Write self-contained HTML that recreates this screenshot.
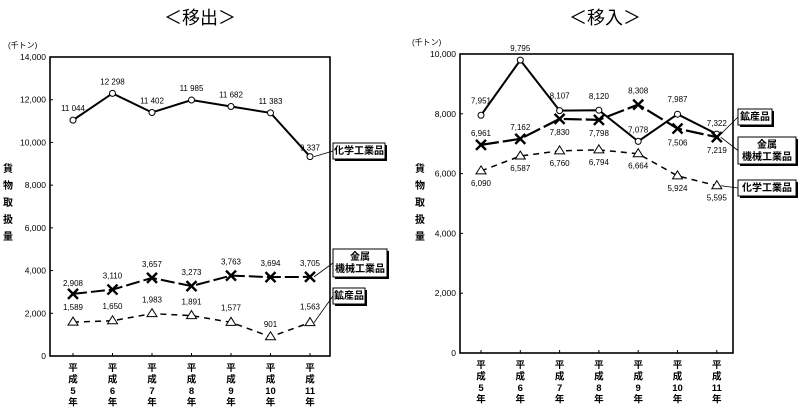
<!DOCTYPE html>
<html><head><meta charset="utf-8"><style>
body{margin:0;background:#fff;width:800px;height:409px;overflow:hidden}
svg{font-family:"Liberation Sans","Noto Sans CJK JP",sans-serif}
</style></head><body>
<svg id="c" width="800" height="409" viewBox="0 0 800 409">
<text x="200" y="24" font-size="18" text-anchor="middle">＜移出＞</text>
<text x="605" y="24" font-size="18" text-anchor="middle">＜移入＞</text>
</svg>
<script>
const years=["平成5年","平成6年","平成7年","平成8年","平成9年","平成10年","平成11年"];
const yearNums=["5","6","7","8","9","10","11"];
// 移出
const outChem=[11044,12298,11402,11985,11682,11383,9337];
const outMetal=[2908,3110,3657,3273,3763,3694,3705];
const outMineral=[1589,1650,1983,1891,1577,901,1563];
const outTicks=[0,2000,4000,6000,8000,10000,12000,14000];
// 移入
const inMineral=[7951,9795,8107,8120,7078,7987,7322];
const inMetal=[6961,7162,7830,7798,8308,7506,7219];
const inChem=[6090,6587,6760,6794,6664,5924,5595];
const inTicks=[0,2000,4000,6000,8000,10000];

const NS="http://www.w3.org/2000/svg";
const svg=document.getElementById('c');
function mk(tag,attrs,parent,text){const e=document.createElementNS(NS,tag);for(const k in attrs)e.setAttribute(k,attrs[k]);if(text!==undefined)e.textContent=text;(parent||svg).appendChild(e);return e;}
function fmt(v){return v.toLocaleString('en-US');}

function chart(cfg){
  const g=mk('g',{});
  
  
  const L=cfg.left,R=cfg.right,T=cfg.top,B=cfg.bottom,max=cfg.max;
  const y=v=>B-(v/max)*(B-T);
  const x=i=>cfg.x0+i*cfg.dx;
  const box=mk('rect',{x:L,y:T,width:R-L,height:B-T,fill:'none',stroke:'#000','stroke-width':1.6},g);
  
  
  cfg.ticks.forEach(t=>{
    const tl=mk('text',{x:L-4,y:y(t)+3,'font-size':8.5,'text-anchor':'end'},g,fmt(t));
    
    
    mk('line',{x1:L,x2:L+3,y1:y(t),y2:y(t),stroke:'#000'},g);
  });
  const u=mk('text',{x:cfg.unitX,y:T-9,'font-size':8},g,'(千トン)');
  
  
  const yt=mk('text',{x:cfg.ytX,y:0,'font-size':10,'font-weight':'bold','text-anchor':'middle'},g);
  
  
  ['貨','物','取','扱','量'].forEach((ch,i)=>mk('tspan',{x:cfg.ytX,y:cfg.ytY+i*17},yt,ch));
  years.forEach((yr,i)=>{
    mk('line',{x1:x(i),x2:x(i),y1:B,y2:B-3,stroke:'#000'},g);
    const t=mk('text',{'font-size':9.5,'font-weight':'bold','text-anchor':'middle'},g);
    
    
    ['平','成',yearNums[i],'年'].forEach((ch,j)=>mk('tspan',{x:x(i),y:B+15+j*11.5},t,ch));
  });
  cfg.series.forEach(s=>{
    const sg=mk('g',{},g);
    
    
    const pts=s.data.map((v,i)=>x(i)+','+y(v)).join(' ');
    const pl=mk('polyline',{points:pts,fill:'none',stroke:'#000','stroke-width':s.w,'stroke-dasharray':s.dash||'none'},sg);
    
    
    s.data.forEach((v,i)=>{
      const px=x(i),py=y(v);
      let m;
      if(s.marker==='o')m=mk('circle',{cx:px,cy:py,r:3,fill:'#fff',stroke:'#000'},sg);
      else if(s.marker==='x')m=mk('path',{d:`M${px-5},${py-5}L${px+5},${py+5}M${px-5},${py+5}L${px+5},${py-5}`,stroke:'#000','stroke-width':2.4},sg);
      else m=mk('path',{d:`M${px},${py-5}L${px+5},${py+3}L${px-5},${py+3}Z`,fill:'#fff',stroke:'#000'},sg);
      
      
      const off=(s.off&&s.off[i]!==undefined)?s.off[i]:-9;
      const lb=mk('text',{x:px,y:py+off,'font-size':8,'text-anchor':'middle'},sg,s.fmt?s.fmt(v):fmt(v));
      
      
    });
    const c=s.callout;
    const lx=x(6),ly=y(s.data[6]);
    mk('line',{x1:lx+4,y1:ly,x2:c.x,y2:c.y+c.h/2,stroke:'#000','stroke-width':0.8},sg);
    mk('rect',{x:c.x+2,y:c.y+2,width:c.w,height:c.h,fill:'#000'},sg);
    const cb=mk('rect',{x:c.x,y:c.y,width:c.w,height:c.h,fill:'#fff',stroke:'#000'},sg);
    
    
    c.lines.forEach((t,j)=>mk('text',{x:c.x+c.w/2,y:c.y+11+j*12,'font-size':10,'font-weight':'bold','text-anchor':'middle'},sg,t));
  });
}
const noComma=v=>String(v).replace(/(\d)(\d{3})$/,'$1 $2');
chart({name:'outbound-chart',left:50,right:330,top:57,bottom:356,max:14000,x0:73,dx:39.5,ticks:outTicks,unitX:8,ytX:8,ytY:172,
 series:[
  {key:'chem',data:outChem,marker:'o',w:2,off:[-9,-9,-9,-9,-9,-9,-6],fmt:noComma,callout:{x:333,y:143,w:52,h:16,lines:['化学工業品']}},
  {key:'metal',data:outMetal,marker:'x',w:2,dash:'14 4',off:[-8,-11,-11,-11,-11,-11,-11],callout:{x:333,y:249,w:54,h:28,lines:['金属','機械工業品']}},
  {key:'mineral',data:outMineral,marker:'t',w:1.5,dash:'6 5',off:[-12,-12,-11,-11,-12,-10,-13],callout:{x:333,y:288,w:32,h:16,lines:['鉱産品']}}
 ]});
chart({name:'inbound-chart',left:460,right:733,top:54,bottom:353,max:10000,x0:481,dx:39.3,ticks:inTicks,unitX:412,ytX:420,ytY:172,
 series:[
  {key:'mineral',data:inMineral,marker:'o',w:2,off:[-12,-9,-12,-11,-9,-12,-8],callout:{x:738,y:109,w:34,h:16,lines:['鉱産品']}},
  {key:'metal',data:inMetal,marker:'x',w:2.2,dash:'18 4',off:[-9,-9,16,16,-11,17,16],callout:{x:738,y:137,w:58,h:27,lines:['金属','機械工業品']}},
  {key:'chem',data:inChem,marker:'t',w:1.5,dash:'6 5',off:[15,15,15,15,15,15,15],callout:{x:738,y:180,w:58,h:16,lines:['化学工業品']}}
 ]});
</script>
</body></html>
